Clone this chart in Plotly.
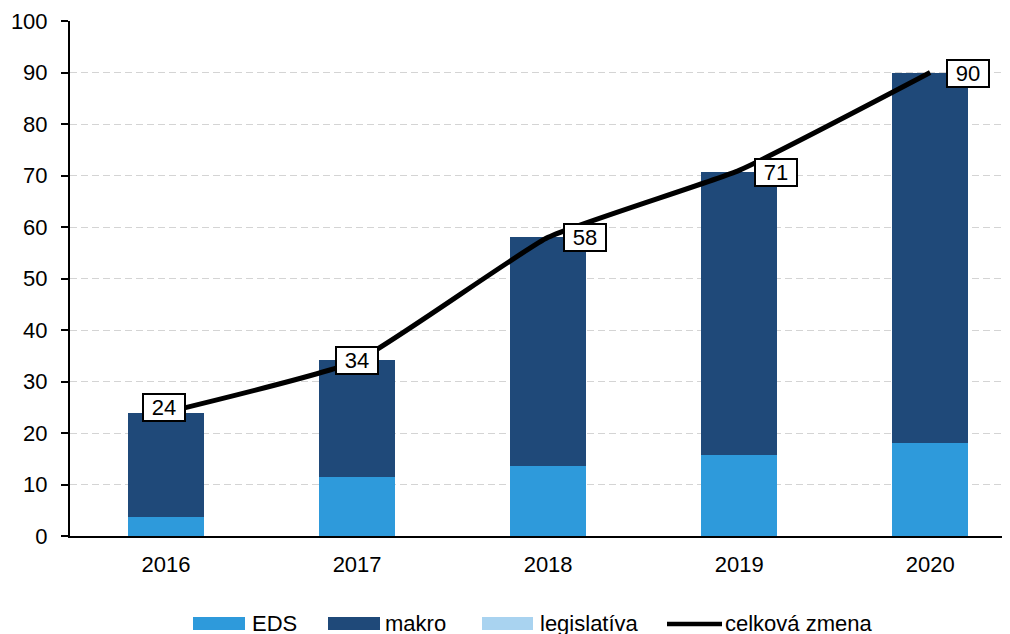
import plotly.graph_objects as go

# data
years = ["2016", "2017", "2018", "2019", "2020"]
eds = [3.7, 11.5, 13.6, 15.7, 18.1]
makro = [20.2, 22.7, 44.5, 55.0, 71.8]
legislativa = [0, 0, 0, 0, 0]
celkova = [24, 34, 58, 71, 90]

C_EDS = "#2E9ADB"
C_MAKRO = "#1F4979"
C_LEG = "#A9D3F0"

# page has an 8px body margin, so figure margins are offset by it
L, T, R, B = 62, 13, 8, 106
PW, PH = 1010 - L - R, 634 - T - B


def px_x(sx):
    return (sx - 8 - L) / PW


def px_y(sy):
    return (T + PH - (sy - 8)) / PH


fig = go.Figure()
fig.add_trace(go.Bar(x=years, y=eds, name="EDS", marker_color=C_EDS, marker_line_width=0))
fig.add_trace(go.Bar(x=years, y=makro, name="makro", marker_color=C_MAKRO, marker_line_width=0))
fig.add_trace(go.Bar(x=years, y=legislativa, name="legislatíva", marker_color=C_LEG,
                     marker_line_width=0))
fig.add_trace(go.Scatter(x=years, y=celkova, name="celková zmena", mode="lines",
                         line=dict(color="black", width=5, shape="spline", smoothing=0.4)))

# boxed value labels
xshifts = [-2, 0, 37, 37, 38]
yshifts = [5, 0, 0, -2, -1]
for i, val in enumerate(celkova):
    fig.add_annotation(x=i, y=val, text=str(val), showarrow=False,
                       xshift=xshifts[i], yshift=yshifts[i],
                       width=38, height=23, align="center", valign="middle",
                       bgcolor="white", bordercolor="black", borderwidth=2, borderpad=1,
                       font=dict(size=22, color="black"))

# legend drawn by hand (wide swatches like the original)
legend_items = [
    ("rect", C_EDS, 193, 245, 250, "EDS"),
    ("rect", C_MAKRO, 328, 380, 383, "makro"),
    ("rect", C_LEG, 482, 533, 538, "legislatíva"),
    ("line", "black", 667, 722, 723, "celková zmena"),
]
for kind, col, x0, x1, tx, label in legend_items:
    if kind == "rect":
        fig.add_shape(type="rect", xref="paper", yref="paper",
                      x0=px_x(x0), x1=px_x(x1), y0=px_y(630), y1=px_y(617),
                      fillcolor=col, line_width=0)
    else:
        fig.add_shape(type="line", xref="paper", yref="paper",
                      x0=px_x(x0), x1=px_x(x1), y0=px_y(624), y1=px_y(624),
                      line=dict(color=col, width=4.5))
    fig.add_annotation(xref="paper", yref="paper", x=px_x(tx), y=px_y(623),
                       xanchor="left", yanchor="middle", text=label, showarrow=False,
                       font=dict(size=22, color="black"))

fig.update_layout(
    width=1010, height=634,
    barmode="stack", bargap=0.6,
    plot_bgcolor="white", paper_bgcolor="white",
    font=dict(family="Liberation Sans, Arial, sans-serif", size=22, color="black"),
    margin=dict(l=L, r=R, t=T, b=B, autoexpand=False),
    showlegend=False,
)
fig.update_xaxes(type="category", range=[-0.503, 4.418], showline=True, linecolor="black",
                 linewidth=2, ticks="", showgrid=False, tickfont=dict(size=22),
                 ticklabelstandoff=8, automargin=False)
fig.update_yaxes(range=[0, 100], dtick=10, showline=True, linecolor="black", linewidth=2,
                 ticks="outside", ticklen=7, tickcolor="black", tickwidth=2,
                 showgrid=True, gridcolor="#D4D4D4", griddash="7px,4px", gridwidth=1.3,
                 zeroline=False, tickfont=dict(size=22), ticklabelstandoff=9,
                 automargin=False)

fig.write_html("out.html")
